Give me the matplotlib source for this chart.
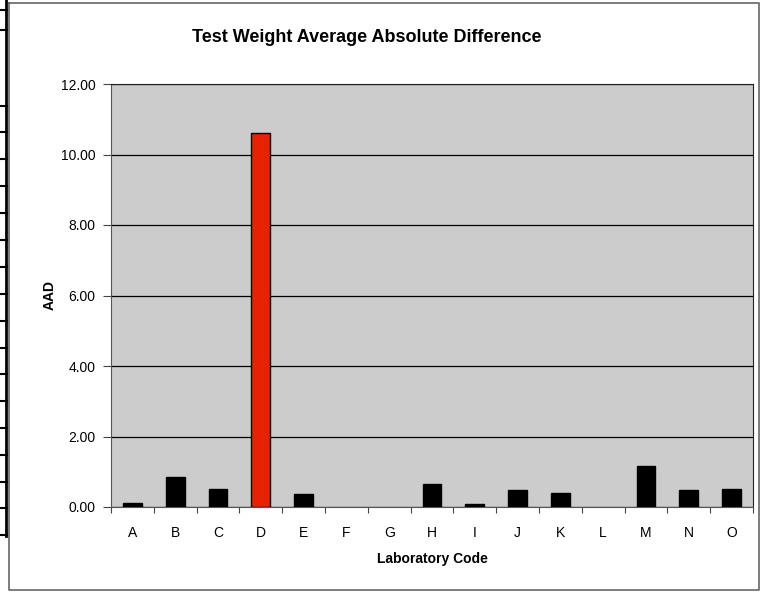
import numpy as np
import matplotlib.pyplot as plt
from matplotlib.lines import Line2D

plt.rcParams['font.family'] = ['Liberation Sans', 'DejaVu Sans']

# Data
labs = ["A", "B", "C", "D", "E", "F", "G", "H", "I", "J", "K", "L", "M", "N", "O"]
aad = [0.10, 0.85, 0.51, 10.62, 0.36, 0.0, 0.0, 0.66, 0.08, 0.47, 0.39, 0.0, 1.17, 0.47, 0.52]
highlight = ["D"]
yticks = [0, 2, 4, 6, 8, 10, 12]

W, H = 760, 592
fig = plt.figure(figsize=(W / 100, H / 100), dpi=100)
ax = fig.add_axes([111 / W, 1 - 507 / H, 642 / W, 423 / H])

def px(x, y):
    return x / W, 1 - y / H

# outer chart frame
x0, y0 = px(8.5, 2.5)
x1, y1 = px(759, 590)
fig.add_artist(Line2D([x0, x1, x1, x0, x0], [y0, y0, y1, y1, y0],
                      color="#666666", lw=1.2, transform=fig.transFigure))

# leftover cell border strip at far left
fig.add_artist(Line2D(*zip(px(6, 0), px(6, 536)), color="black", lw=2,
                      transform=fig.transFigure))
for yy in [10, 30, 106, 132, 159, 186, 213, 240, 267, 294, 321, 348, 374,
           401, 428, 455, 482, 508, 535]:
    fig.add_artist(Line2D(*zip(px(0, yy), px(7, yy)), color="black", lw=1.5,
                          transform=fig.transFigure))

x = np.arange(len(labs))
colors = ["#E62200" if l in highlight else "black" for l in labs]
edges = [1 if v > 0 else 0 for v in aad]
ax.bar(x, aad, width=0.44, color=colors, edgecolor="black", linewidth=edges, zorder=3)

ax.set_facecolor("#CCCCCC")
ax.set_xlim(-0.5, len(labs) - 0.5)
ax.set_ylim(0, 12)
ax.set_yticks(yticks)
ax.set_yticklabels([f"{v:.2f}" for v in yticks], fontsize=10)
ax.yaxis.grid(True, color="black", lw=0.9, zorder=1)
ax.set_axisbelow(True)

ax.set_xticks(x)
ax.set_xticklabels(labs, fontsize=10)
ax.set_xticks(np.arange(-0.5, len(labs)), minor=True)
ax.tick_params(axis="x", which="major", length=0, pad=14)
ax.tick_params(axis="x", which="minor", length=4, width=0.8, color="#444444")
ax.tick_params(axis="y", length=6, width=0.8, pad=5, color="#444444")

for s in ["left", "bottom"]:
    ax.spines[s].set_color("#555555")
for s in ["top", "right"]:
    ax.spines[s].set_color("#222222")

ax.set_xlabel("Laboratory Code", fontsize=10, fontweight="bold", labelpad=8)
ax.set_ylabel("AAD", fontsize=10, fontweight="bold", labelpad=3)

fig.text(367 / W, 1 - 37 / H, "Test Weight Average Absolute Difference",
         ha="center", va="center", fontsize=13, fontweight="bold")

fig.savefig("out.png", dpi=100)
